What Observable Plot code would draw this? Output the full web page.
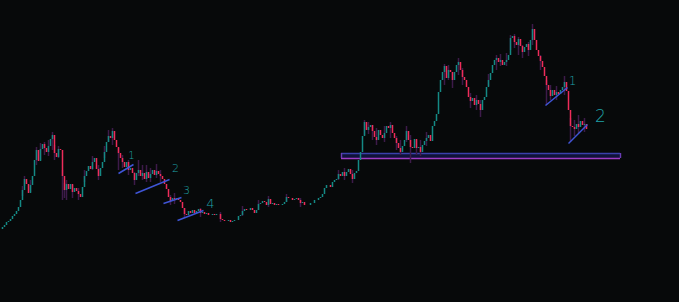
<!DOCTYPE html>
<html>
<head>
<meta charset="utf-8">
<script src="https://cdn.jsdelivr.net/npm/d3@7"></script>
<script src="https://cdn.jsdelivr.net/npm/@observablehq/plot@0.6"></script>
<style>
  html, body { margin: 0; padding: 0; background: #07090a; overflow: hidden; }
  #chart svg { display: block; }
</style>
</head>
<body>
<div id="chart"></div>
<script>
// Level values (screen-down units; larger = lower price), one per bar, bars every 2 units
const barStep = 2;
const closes = [
229,227,225,222,221,219,216,214,211,207,200,190,179,184,193,185,176,160,150,161,
149,144,148,152,146,139,135,153,157,149,150,176,190,184,189,184,192,188,191,194,
197,187,176,171,166,169,162,158,169,176,168,162,152,142,136,138,131,140,147,153,
158,162,167,162,170,168,173,180,173,170,176,173,179,172,178,174,170,175,171,174,
176,179,184,189,197,201,198,199,198,200,202,208,214,215,211,213,210,213,211,209,
213,212,214,213,215,215,214,215,214,214,219,220,221,221,220,222,221,220,220,216,
215,211,209,210,210,208,210,213,210,204,203,201,202,205,199,204,203,205,204,205,
205,204,202,197,198,198,200,199,198,200,203,202,205,205,205,203,203,200,200,198,
197,194,188,185,185,187,182,180,179,174,176,172,176,172,169,174,179,173,171,160,
152,136,122,130,127,125,131,137,140,130,135,138,133,126,128,125,133,138,143,148,
152,146,140,131,140,147,148,139,148,147,152,145,141,138,135,141,126,121,114,92,
80,72,66,78,70,72,80,72,65,62,70,77,80,87,97,101,98,105,100,104,
110,100,97,87,80,73,65,60,58,62,60,65,62,60,55,38,36,42,45,39,
46,52,47,44,50,40,29,40,50,56,61,67,76,85,90,96,90,95,92,94,
90,87,82,91,110,126,127,129,124,127,121,125,124,129
];
// notable wicks: position, top level, bottom level
const wickPos = [22,24,30,36,40,44,48,52,54,58,62,64,66,72,78,84,92,98,104,108,112,118,122,128,134,138,142,146,150,156,160,170,174,184,200,220,242,258,268,286,300,338,344,352,364,368,372,376,384,390,396,400,406,410,416,420,426,444,448,452,458,462,470,476,480,488,496,500,506,510,514,518,522,528,532,540,546,550,556,564,570,574,578,584];
const wickTop = [186,176,180,147,143,142,140,132,145,146,170,183,180,185,188,170,156,165,146,130,128,148,155,160,172,160,165,165,168,164,170,195,193,208,208,212,206,200,196,194,198,170,168,170,120,122,125,128,126,122,136,140,126,135,140,140,132,64,65,72,58,68,93,95,100,74,55,54,53,35,34,37,45,42,24,55,80,85,86,76,118,120,115,118];
const wickBot = [196,186,192,165,160,155,156,150,160,158,200,198,200,198,200,182,170,180,158,142,145,170,168,175,185,176,180,182,182,178,182,205,204,218,217,222,216,210,207,202,207,180,180,183,135,134,140,145,142,138,150,155,142,163,155,156,146,85,80,88,75,85,108,110,117,86,70,66,66,50,48,55,58,56,45,70,105,100,100,95,142,136,133,132];

// support zone
const zoneX = [341, 620];
const zoneY = [153, 158];

// trend lines
const lineX1 = [118, 135, 163, 177, 545, 568];
const lineY1 = [173, 193, 203, 220, 105, 143];
const lineX2 = [133, 169, 181, 203, 567, 587];
const lineY2 = [164, 179, 197, 210, 87, 124];

// labels
const labelText = ["1", "2", "3", "4", "1", "2"];
const labelX = [131, 175, 186, 210, 572, 600];
const labelY = [155, 168, 190, 203, 81, 116];
const labelSize = [10, 11, 11, 13, 12, 17];

const bars = closes.map((c, i) => ({
  x: i * barStep,
  open: i === 0 ? c : closes[i - 1],
  close: c
}));
const wicks = wickPos.map((x, i) => ({ x, top: wickTop[i], bot: wickBot[i] }));
const lines = lineX1.map((x1, i) => ({ x1, y1: lineY1[i], x2: lineX2[i], y2: lineY2[i] }));
const labels = labelText.map((t, i) => ({ t, x: labelX[i], y: labelY[i], s: labelSize[i] }));

const chart = Plot.plot({
  width: 679,
  height: 302,
  margin: 0,
  style: { background: "#07090a", overflow: "visible" },
  x: { domain: [0, 679], axis: null },
  y: { domain: [0, 302], reverse: true, axis: null },
  marks: [
    Plot.rect([{}], { x1: zoneX[0], x2: zoneX[1], y1: zoneY[0], y2: zoneY[1], fill: "#10133a" }),
    Plot.ruleY([zoneY[0]], { x1: zoneX[0], x2: zoneX[1], stroke: "#3a40ac", strokeWidth: 1.5 }),
    Plot.ruleY([zoneY[1]], { x1: zoneX[0], x2: zoneX[1], stroke: "#a03cc4", strokeWidth: 1.5 }),
    Plot.ruleX([zoneX[0], zoneX[1]], { y1: zoneY[0], y2: zoneY[1], stroke: "#6a3cb4", strokeWidth: 1.4 }),
    Plot.ruleX(wicks, { x: "x", y1: "top", y2: "bot", stroke: "#3d1b4a", strokeWidth: 1.5 }),
    Plot.ruleX(bars, {
      x: "x", y1: "open", y2: "close",
      stroke: d => d.close < d.open ? "#148a85" : "#ee2c5a",
      strokeWidth: 1.5
    }),
    Plot.link(lines, { x1: "x1", y1: "y1", x2: "x2", y2: "y2", stroke: "#3f55d6", strokeWidth: 1.5 }),
    Plot.text(labels, {
      x: "x", y: "y", text: "t", fontSize: "s",
      fill: "#1fa3a8", fontFamily: "DejaVu Sans", fontWeight: 300
    })
  ]
});
document.getElementById("chart").appendChild(chart);
</script>
</body>
</html>
